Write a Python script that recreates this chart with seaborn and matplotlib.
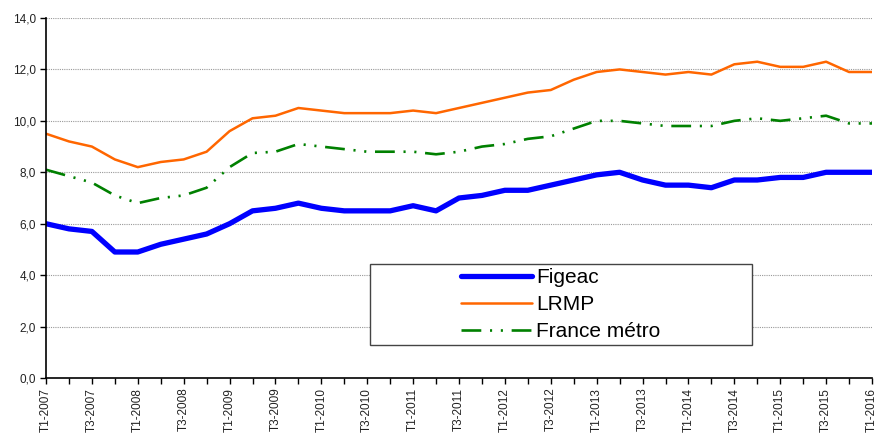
import numpy as np
import pandas as pd
import matplotlib
matplotlib.use("Agg")
import matplotlib.pyplot as plt
from matplotlib.patches import Rectangle
import seaborn as sns

# quarters T1-2007 .. T1-2016
years = list(range(2007, 2017))
quarters = [f"T{q}-{y}" for y in years for q in range(1, 5)][:37]

figeac = [6.0, 5.8, 5.7, 4.9, 4.9, 5.2, 5.4, 5.6, 6.0, 6.5, 6.6, 6.8,
          6.6, 6.5, 6.5, 6.5, 6.7, 6.5, 7.0, 7.1, 7.3, 7.3, 7.5, 7.7,
          7.9, 8.0, 7.7, 7.5, 7.5, 7.4, 7.7, 7.7, 7.8, 7.8, 8.0, 8.0, 8.0]
lrmp = [9.5, 9.2, 9.0, 8.5, 8.2, 8.4, 8.5, 8.8, 9.6, 10.1, 10.2, 10.5,
        10.4, 10.3, 10.3, 10.3, 10.4, 10.3, 10.5, 10.7, 10.9, 11.1, 11.2, 11.6,
        11.9, 12.0, 11.9, 11.8, 11.9, 11.8, 12.2, 12.3, 12.1, 12.1, 12.3, 11.9, 11.9]
france = [8.1, 7.85, 7.6, 7.1, 6.8, 7.0, 7.1, 7.4, 8.2, 8.75, 8.8, 9.1,
          9.0, 8.9, 8.8, 8.8, 8.8, 8.7, 8.8, 9.0, 9.1, 9.3, 9.4, 9.7,
          10.0, 10.0, 9.9, 9.8, 9.8, 9.8, 10.0, 10.1, 10.0, 10.1, 10.2, 9.9, 9.9]

df = pd.DataFrame({"idx": np.arange(len(quarters)), "quarter": quarters,
                   "Figeac": figeac, "LRMP": lrmp, "France métro": france})

sns.set_style("white")
plt.rcParams["font.family"] = ["Liberation Sans", "DejaVu Sans"]

fig = plt.figure(figsize=(8.75, 4.34), dpi=100)
ax = fig.add_axes([46 / 875, 1 - 378 / 434, 826 / 875, 360 / 434])

for y in np.arange(2, 14.1, 2):
    ax.axhline(y, color="#999999", lw=0.8, ls=(0, (1, 1)), zorder=0)

sns.lineplot(data=df, x="idx", y="Figeac", ax=ax, color="#0000ff", lw=3.8,
             label="Figeac", solid_capstyle="round")
sns.lineplot(data=df, x="idx", y="LRMP", ax=ax, color="#ff6600", lw=1.8,
             label="LRMP")
sns.lineplot(data=df, x="idx", y="France métro", ax=ax, color="#008000", lw=1.9,
             label="France métro")
ax.lines[-1].set_dashes([7.5, 3.3, 0.8, 3.3, 0.8, 3.3])

ax.set_xlim(0, len(quarters) - 1)
ax.set_ylim(0, 14)
ax.set_yticks(np.arange(0, 14.1, 2))
ax.set_yticklabels([f"{v:.1f}".replace(".", ",") for v in np.arange(0, 14.1, 2)],
                   fontsize=8.5, color="#222222")
ax.set_xticks(df["idx"][::2])
ax.set_xticklabels(df["quarter"][::2], rotation=90, fontsize=8.5, color="#222222")
ax.set_xticks(df["idx"], minor=True)
ax.tick_params(axis="both", which="both", direction="out", length=4, width=1,
               color="black", left=True, bottom=True, pad=3)
ax.set_xlabel("")
ax.set_ylabel("")

for side in ["top", "right"]:
    ax.spines[side].set_visible(False)
for side in ["left", "bottom"]:
    ax.spines[side].set_color("black")
    ax.spines[side].set_linewidth(1.2)

# legend box
ax.add_patch(Rectangle((0.392, 0.092), 0.463, 0.225, transform=ax.transAxes,
                       fill=True, facecolor="white", edgecolor="#444444",
                       lw=1, zorder=4))
leg = ax.legend(loc="center", bbox_to_anchor=(0.623, 0.204), fontsize=15,
                handlelength=3.4, frameon=False, borderpad=0,
                labelspacing=0.38, handletextpad=0.2)
leg.set_zorder(5)
for t in leg.get_texts():
    t.set_color("black")

fig.savefig("out.png", dpi=100)
